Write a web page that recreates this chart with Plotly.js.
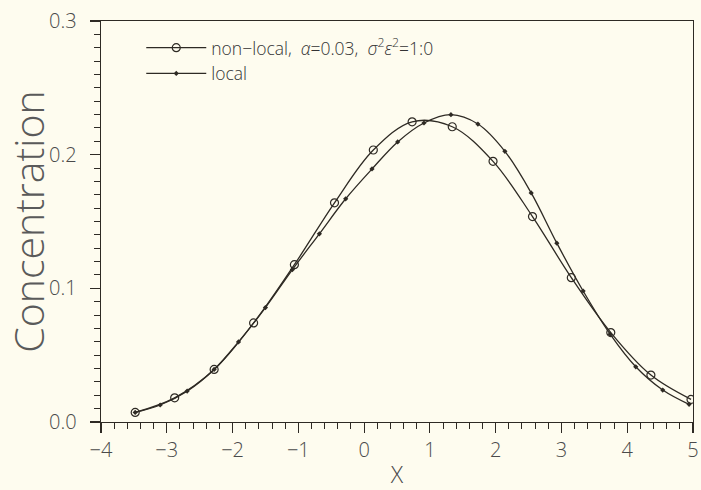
<!DOCTYPE html>
<html>
<head>
<meta charset="utf-8">
<script src="https://cdn.plot.ly/plotly-3.0.1.min.js"></script>
<style>html,body{margin:0;padding:0;background:#fefcef;}#chart{width:701px;height:490px;}</style>
</head>
<body>
<div id="chart"></div>
<script>
// Non-local model (open circles)
const nonlocalX = [-3.48, -2.88, -2.28, -1.68, -1.06, -0.45, 0.14, 0.73, 1.34, 1.96, 2.56, 3.15, 3.75, 4.36, 4.97];
const nonlocalY = [0.0072, 0.0181, 0.0393, 0.0741, 0.1177, 0.1640, 0.2035, 0.2246, 0.2209, 0.1950, 0.1537, 0.1080, 0.0669, 0.0351, 0.0169];
// Local model (small dots)
const localX = [-3.48, -3.10, -2.69, -2.28, -1.91, -1.50, -1.09, -0.68, -0.28, 0.12, 0.51, 0.91, 1.32, 1.73, 2.14, 2.54, 2.93, 3.33, 3.74, 4.13, 4.54, 4.94];
const localY = [0.0072, 0.0127, 0.0231, 0.0393, 0.0599, 0.0856, 0.1140, 0.1408, 0.1670, 0.1893, 0.2095, 0.2237, 0.2299, 0.2229, 0.2025, 0.1714, 0.1338, 0.0980, 0.0657, 0.0413, 0.0239, 0.0132];
const seriesNames = ["non\u2212local,\u00a0\u00a0<i>α</i>=0.03,\u00a0\u00a0<i>σ</i><sup>2</sup><i>ε</i><sup>2</sup>=1:0", "local"];
const xTicks = [-4, -3, -2, -1, 0, 1, 2, 3, 4, 5];
const yTicks = [0.0, 0.1, 0.2, 0.3];

const ink = '#2e2a24';
const traces = [
  {x: nonlocalX, y: nonlocalY, name: seriesNames[0], type: 'scatter', mode: 'lines+markers',
   line: {color: ink, width: 1.3, shape: 'spline', smoothing: 1},
   marker: {symbol: 'circle-open', size: 8, color: ink, line: {width: 1.2, color: ink}}},
  {x: localX, y: localY, name: seriesNames[1], type: 'scatter', mode: 'lines+markers',
   line: {color: ink, width: 1.3, shape: 'spline', smoothing: 1},
   marker: {symbol: 'diamond', size: 4, color: ink}}
];

const fam = 'Open Sans, DejaVu Sans, sans-serif';
const tickFont = {family: fam, size: 20, color: '#4a4a4a', weight: 300};
const layout = {
  width: 701, height: 490,
  paper_bgcolor: '#fefcef', plot_bgcolor: '#fefcef',
  margin: {l: 101, r: 8, t: 21, b: 68},
  showlegend: true,
  legend: {x: 0.068, y: 0.978, xanchor: 'left', yanchor: 'top', bgcolor: 'rgba(0,0,0,0)',
           font: {family: fam, size: 17.5, color: '#333', weight: 300},
           tracegroupgap: 0, itemwidth: 60},
  xaxis: {range: [-4, 5], tickvals: xTicks, ticks: 'outside', ticklen: 10, tickwidth: 1.2, tickcolor: ink,
          showline: true, linecolor: ink, linewidth: 1.3, mirror: true, showgrid: false, zeroline: false,
          minor: {dtick: 0.2, ticks: 'outside', ticklen: 6, tickwidth: 1, tickcolor: ink, showgrid: false},
          tickfont: tickFont,
          title: {text: 'X', font: {family: fam, size: 23, color: '#4a4a4a', weight: 300}, standoff: 8}},
  yaxis: {range: [0, 0.3], tickvals: yTicks, tickformat: '.1f', ticks: 'outside', ticklen: 10, tickwidth: 1.2, tickcolor: ink,
          showline: true, linecolor: ink, linewidth: 1.3, mirror: true, showgrid: false, zeroline: false,
          minor: {dtick: 0.01, ticks: 'outside', ticklen: 6, tickwidth: 1, tickcolor: ink, showgrid: false},
          tickfont: tickFont, ticklabelstandoff: 9,
          title: {text: 'Concentration', font: {family: fam, size: 41, color: '#5a5a5a', weight: 300}, standoff: 2}}
};
Plotly.newPlot('chart', traces, layout, {displayModeBar: false, staticPlot: true});
</script>
</body>
</html>
